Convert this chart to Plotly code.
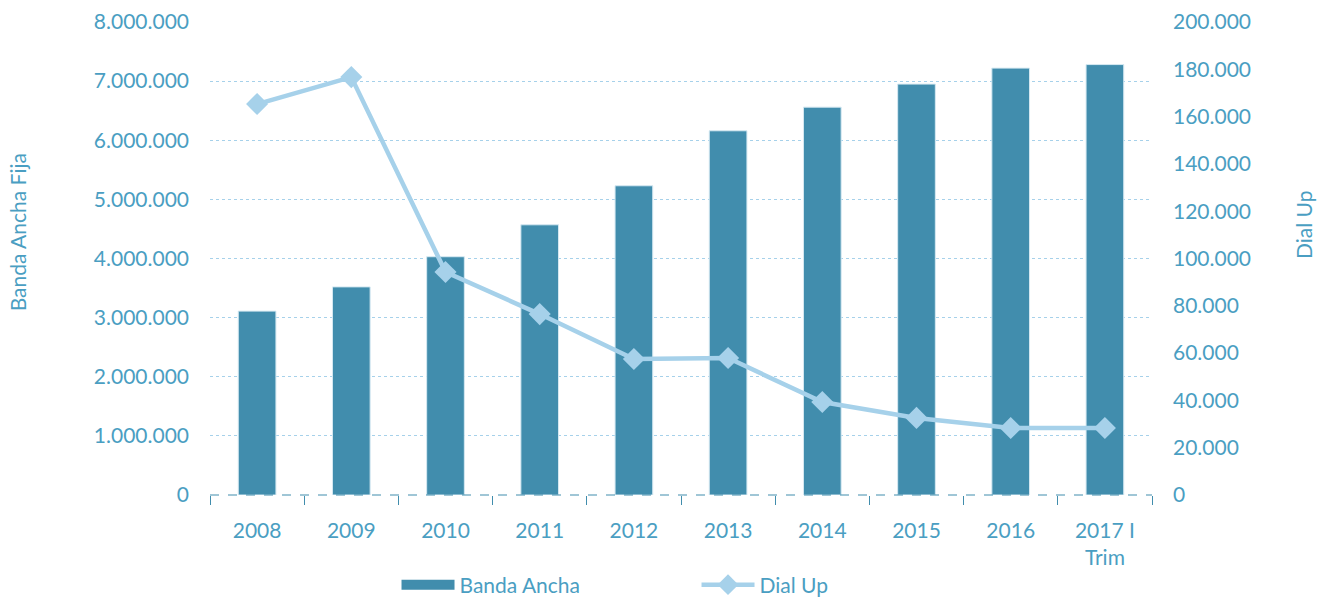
import plotly.graph_objects as go

years = ["2008", "2009", "2010", "2011", "2012", "2013", "2014", "2015", "2016", "2017 I<br>Trim"]
banda_ancha = [3110000, 3520000, 4030000, 4570000, 5230000, 6160000, 6560000, 6950000, 7220000, 7280000]
dial_up = [165300, 176700, 94300, 76500, 57500, 57900, 39300, 32600, 28300, 28300]

BAR = "#418DAD"
LINE = "#A6D1EA"
TXT = "#4A9EC2"
GRID = "#A6D1EA"
FONT = "Lato"
FS = 21

fig = go.Figure()
fig.add_trace(go.Bar(
    x=years, y=banda_ancha, name="Banda Ancha", showlegend=False,
    marker=dict(color=BAR, line=dict(color="#D6E9F2", width=1)),
    width=0.4, yaxis="y",
))
# legend swatch for bars (wide rectangle like the original)
fig.add_trace(go.Scatter(
    x=[None], y=[None], name="Banda Ancha", mode="lines",
    line=dict(color=BAR, width=17), yaxis="y",
))
fig.add_trace(go.Scatter(
    x=years, y=dial_up, name="Dial Up", mode="lines+markers",
    line=dict(color=LINE, width=4.5),
    marker=dict(symbol="diamond", size=17, color=LINE),
    yaxis="y2",
))

fig.update_layout(
    width=1329, height=598,
    margin=dict(l=210, r=177, t=22, b=103, autoexpand=False),
    paper_bgcolor="white", plot_bgcolor="white",
    separators=",.",
    font=dict(family=FONT, size=FS, color=TXT),
    showlegend=True,
    legend=dict(orientation="h", x=0.198, xanchor="left", y=-0.147, yanchor="top",
                font=dict(size=FS, color=TXT), itemwidth=53, tracegroupgap=0,
                entrywidth=232),
    xaxis=dict(
        type="category", range=[-0.5, len(years) - 0.5],
        showgrid=False, showline=False, automargin=False,
        ticks="outside", tickson="boundaries", ticklen=9, tickcolor=BAR, tickwidth=1,
        tickfont=dict(size=FS, color=TXT), zeroline=False, ticklabelstandoff=21,
    ),
    yaxis=dict(
        range=[0, 8000000], dtick=1000000, tickformat=",d", automargin=False,
        showgrid=True, gridcolor=GRID, griddash="dot", gridwidth=1.2,
        zeroline=False, showline=False, ticks="", ticklen=0, ticklabelstandoff=20,
        tickfont=dict(size=FS, color=TXT),
    ),
    yaxis2=dict(
        range=[0, 200000], dtick=20000, tickformat=",d", overlaying="y", side="right",
        showgrid=False, zeroline=False, showline=False, automargin=False,
        ticklabelstandoff=20, tickfont=dict(size=FS, color=TXT),
    ),
    shapes=[dict(type="line", xref="paper", yref="paper", x0=0, x1=1, y0=0, y1=0,
                 line=dict(color=BAR, width=1, dash="dash"), layer="above")],
    annotations=[
        dict(text="Banda Ancha Fija", xref="paper", yref="paper", x=-0.204, y=0.555,
             xanchor="center", yanchor="middle", textangle=-90, showarrow=False,
             font=dict(size=FS, color=TXT)),
        dict(text="Dial Up", xref="paper", yref="paper", x=1.161, y=0.57,
             xanchor="center", yanchor="middle", textangle=-90, showarrow=False,
             font=dict(size=FS, color=TXT)),
    ],
)

fig.write_html("out.html", config={"displayModeBar": False},
               post_script="document.body.style.margin='0';document.body.style.padding='0';")
